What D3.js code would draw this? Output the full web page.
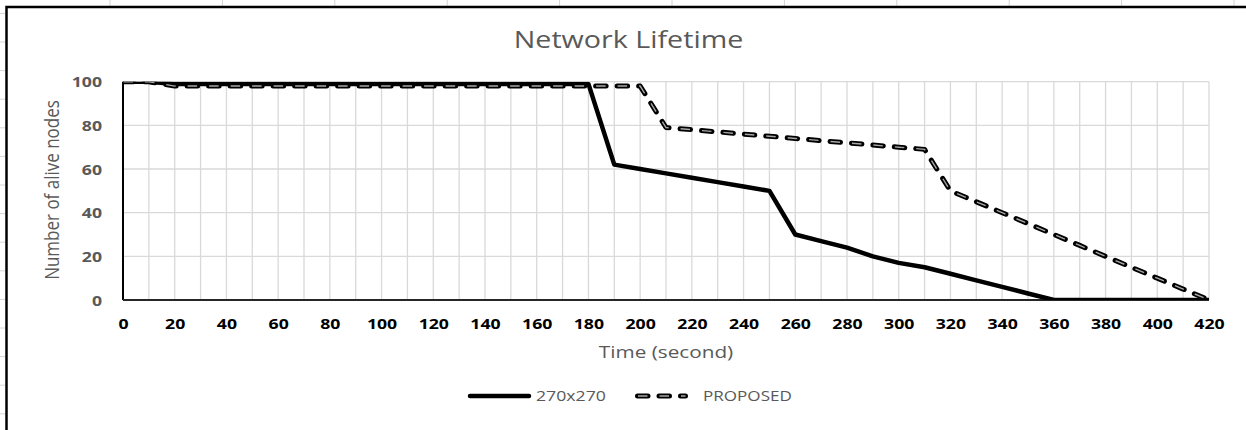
<!DOCTYPE html>
<html>
<head>
<meta charset="utf-8">
<script src="https://cdn.jsdelivr.net/npm/d3@7"></script>
<style>
    body { margin: 0; background: #fff; }
    text { font-family: "Open Sans", "Noto Sans", sans-serif; }
</style>
</head>
<body>
<div id="lifetime_chart"></div>
<script>

// time axis (seconds), one point every 10 s
const timeSteps = [0, 10, 20, 30, 40, 50, 60, 70, 80, 90, 100, 110, 120, 130, 140, 150, 160, 170, 180, 190,
    200, 210, 220, 230, 240, 250, 260, 270, 280, 290, 300, 310, 320, 330, 340, 350, 360, 370, 380, 390, 400, 410, 420];

// alive nodes for the 270x270 field
const aliveGrid = [100, 100, 99, 99, 99, 99, 99, 99, 99, 99, 99, 99, 99, 99, 99, 99, 99, 99, 99, 62,
    60, 58, 56, 54, 52, 50, 30, 27, 24, 20, 17, 15, 12, 9, 6, 3, 0, 0, 0, 0, 0, 0, 0];

// alive nodes for the proposed scheme
const aliveProposed = [100, 100, 98, 98, 98, 98, 98, 98, 98, 98, 98, 98, 98, 98, 98, 98, 98, 98, 98, 98,
    98, 79, 78, 77, 76, 75, 74, 73, 72, 71, 70, 69, 50, 45, 40, 35, 30, 25, 20, 15, 10, 5, 0];

const xTicks = [0, 20, 40, 60, 80, 100, 120, 140, 160, 180, 200, 220, 240, 260, 280, 300, 320, 340, 360, 380, 400, 420];
const yTicks = [0, 20, 40, 60, 80, 100];

const seriesNames = ["270x270", "PROPOSED"];

/** Class representing the network lifetime line chart. */
class LifetimePlot {

    constructor() {

        this.w = 1246;
        this.h = 430;
        // the source picture is stretched sideways, so the text is too
        this.sx = 1.22;
        let grey = "#595959";

        let svg = d3.select("#lifetime_chart")
            .append("svg")
            .attr("width", this.w)
            .attr("height", this.h);
        this.svg = svg;

        // scales
        var xScale = d3.scaleLinear().domain([0, 420]).range([123, 1209]);
        var yScale = d3.scaleLinear().domain([0, 100]).range([300, 81.7]);

        // faint spreadsheet cells around the chart object
        svg.append("g").selectAll("line")
            .data(d3.range(110, this.w, 112.4))
            .join("line")
            .attr("x1", d => d).attr("x2", d => d)
            .attr("y1", 0).attr("y2", 7)
            .attr("stroke", "#d4d4d4");
        svg.append("g").selectAll("line")
            .data(d3.range(13.4, this.h, 28.6))
            .join("line")
            .attr("x1", 0).attr("x2", 5)
            .attr("y1", d => d).attr("y2", d => d)
            .attr("stroke", "#d4d4d4");

        // chart frame (only left and top edges are in view)
        svg.append("rect")
            .attr("x", 6.5).attr("y", 7)
            .attr("width", 1400).attr("height", 1000)
            .attr("fill", "#fff")
            .attr("stroke", "#000")
            .attr("stroke-width", 2.5);

        // grid lines
        svg.append("g").selectAll("line")
            .data(timeSteps)
            .join("line")
            .attr("x1", d => xScale(d)).attr("x2", d => xScale(d))
            .attr("y1", yScale(0)).attr("y2", yScale(100))
            .attr("stroke", "#d9d9d9")
            .attr("stroke-width", 1.3);
        svg.append("g").selectAll("line")
            .data(yTicks)
            .join("line")
            .attr("x1", xScale(0)).attr("x2", xScale(420))
            .attr("y1", d => yScale(d)).attr("y2", d => yScale(d))
            .attr("stroke", "#d9d9d9")
            .attr("stroke-width", 1.3);

        // axis lines
        svg.append("line")
            .attr("x1", xScale(0)).attr("x2", xScale(0))
            .attr("y1", yScale(0)).attr("y2", yScale(100))
            .attr("stroke", "#000").attr("stroke-width", 2);
        svg.append("line")
            .attr("x1", xScale(0)).attr("x2", xScale(420))
            .attr("y1", yScale(0)).attr("y2", yScale(0))
            .attr("stroke", "#262626").attr("stroke-width", 2);

        // tick labels
        let that = this;
        let xAxis = svg.append("g")
            .attr("transform", "translate(0," + yScale(0) + ")")
            .call(d3.axisBottom(xScale).tickValues(xTicks).tickSize(0).tickPadding(0));
        xAxis.select(".domain").remove();
        xAxis.selectAll(".tick text")
            .attr("y", 0)
            .attr("dy", null)
            .attr("transform", "translate(0,29) scale(" + that.sx + ",1)")
            .attr("font-family", null)
            .attr("font-size", 14.5)
            .attr("font-weight", "bold")
            .attr("fill", "#000");

        let yAxis = svg.append("g")
            .attr("transform", "translate(102,0)")
            .call(d3.axisLeft(yScale).tickValues(yTicks).tickSize(0).tickPadding(0));
        yAxis.select(".domain").remove();
        yAxis.selectAll(".tick text")
            .attr("x", 0)
            .attr("dy", "0.36em")
            .attr("transform", "scale(" + that.sx + ",1)")
            .attr("font-family", null)
            .attr("font-size", 14.5)
            .attr("font-weight", "bold")
            .attr("fill", grey);

        // titles
        this.label(628.5, 48, "Network Lifetime", 23.5, grey, "middle");
        this.label(666, 358, "Time (second)", 17, grey, "middle");
        svg.append("text")
            .attr("transform", "translate(59,190) scale(" + this.sx + ",1) rotate(-90)")
            .attr("text-anchor", "middle")
            .attr("font-size", 17)
            .attr("fill", grey)
            .text("Number of alive nodes");

        // clip the series to the plot area
        svg.append("clipPath")
            .attr("id", "plot_clip")
            .append("rect")
            .attr("x", xScale(0)).attr("y", yScale(100))
            .attr("width", xScale(420) - xScale(0))
            .attr("height", yScale(0) - yScale(100));

        // line generator function
        this.line = d3.line()
            .x(function(d) { return xScale(d[0]) })
            .y(function(d) { return yScale(d[1]) });

        let gridData = timeSteps.map((t, i) => [t, aliveGrid[i]]);
        let proposedData = timeSteps.map((t, i) => [t, aliveProposed[i]]);

        let series = svg.append("g").attr("clip-path", "url(#plot_clip)");
        series.append("path")
            .datum(gridData)
            .attr("d", this.line)
            .attr("fill", "none")
            .attr("stroke", "#000")
            .attr("stroke-width", 4.5)
            .attr("stroke-linejoin", "round");
        this.dashed(series.append("g"), proposedData);

        // legend
        let legend = svg.append("g");
        legend.append("line")
            .attr("x1", 470).attr("x2", 529)
            .attr("y1", 396).attr("y2", 396)
            .attr("stroke", "#000")
            .attr("stroke-width", 4.5)
            .attr("stroke-linecap", "round");
        this.label(536, 401, seriesNames[0], 14.5, grey, "start");
        this.dashed(legend, [[0, 0], [1, 0]], d3.line()
            .x(function(d) { return 637.5 + d[0] * 48 })
            .y(396));
        this.label(703, 401, seriesNames[1], 14, grey, "start");
    }

    /**
     * Writes a horizontally stretched text label
     */
    label(x, y, txt, size, color, anchor) {
        return this.svg.append("text")
            .attr("transform", "translate(" + x + "," + y + ") scale(" + this.sx + ",1)")
            .attr("text-anchor", anchor)
            .attr("font-size", size)
            .attr("fill", color)
            .text(txt);
    }

    /**
     * Draws an outlined dashed line (black dash with a grey core)
     */
    dashed(selection, datum, gen) {
        let line = gen || this.line;
        selection.append("path")
            .datum(datum)
            .attr("d", line)
            .attr("fill", "none")
            .attr("stroke", "#000")
            .attr("stroke-width", 5)
            .attr("stroke-linecap", "round")
            .attr("stroke-linejoin", "round")
            .attr("stroke-dasharray", "10.5 11");
        selection.append("path")
            .datum(datum)
            .attr("d", line)
            .attr("fill", "none")
            .attr("stroke", "#a6a6a6")
            .attr("stroke-width", 1.4)
            .attr("stroke-dasharray", "9.5 12")
            .attr("stroke-dashoffset", -0.5);
    }
}

new LifetimePlot();

</script>
</body>
</html>
